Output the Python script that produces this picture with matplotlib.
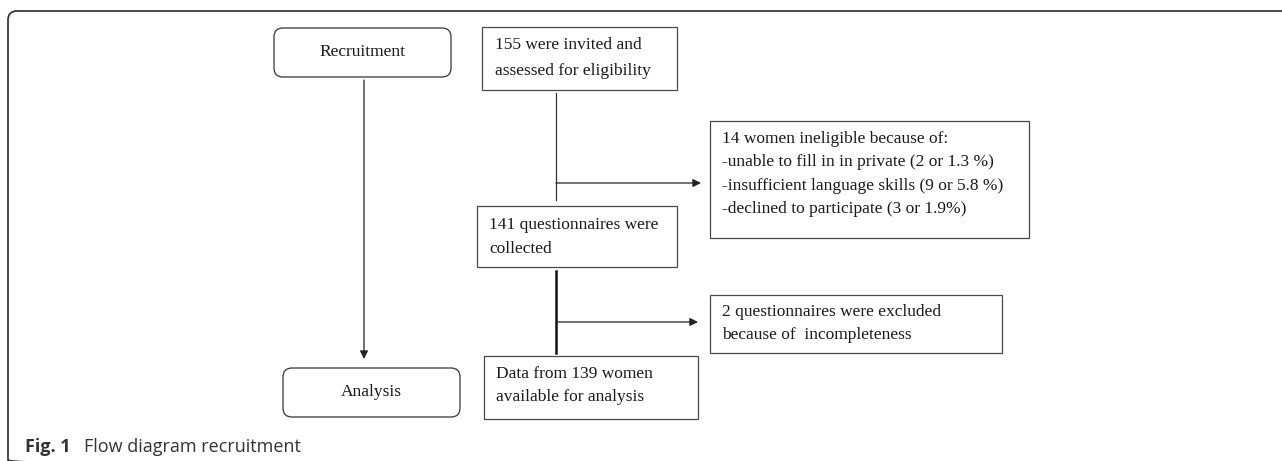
import matplotlib
matplotlib.use("Agg")
from matplotlib import pyplot as plt
from matplotlib.patches import FancyBboxPatch, Rectangle

# box texts
stage_labels = ["Recruitment", "Analysis"]
invited_text = ["155 were invited and", "assessed for eligibility"]
excluded_1_text = ["14 women ineligible because of:",
                   "-unable to fill in in private (2 or 1.3 %)",
                   "-insufficient language skills (9 or 5.8 %)",
                   "-declined to participate (3 or 1.9%)"]
collected_text = ["141 questionnaires were", "collected"]
excluded_2_text = ["2 questionnaires were excluded", "because of  incompleteness"]
final_text = ["Data from 139 women", "available for analysis"]
caption_bold = "Fig. 1"
caption_rest = "Flow diagram recruitment"

serif = "Liberation Serif"
txt_col = "#1a1a1a"
edge_col = "#4a4a4a"
fs = 12.5

W, H = 1282, 461
fig = plt.figure(figsize=(W / 100, H / 100), dpi=100)
ax = fig.add_axes([0, 0, 1, 1])
ax.set_xlim(0, W)
ax.set_ylim(H, 0)
ax.axis("off")

# outer frame
ax.add_patch(FancyBboxPatch((8, 11), 1300, 458,
                            boxstyle="round,pad=0,rounding_size=9",
                            fc="none", ec="#3a3a3a", lw=1.3, clip_on=False))


def rbox(x0, y0, x1, y1, label):
    ax.add_patch(FancyBboxPatch((x0, y0), x1 - x0, y1 - y0,
                                boxstyle="round,pad=0,rounding_size=9",
                                fc="white", ec="#333333", lw=0.9))
    ax.text((x0 + x1) / 2, (y0 + y1) / 2 - 1, label, family=serif, size=fs,
            color=txt_col, ha="center", va="center")


def sbox(x0, y0, x1, y1, lines, ys, tx):
    ax.add_patch(Rectangle((x0, y0), x1 - x0, y1 - y0,
                           fc="white", ec=edge_col, lw=0.9))
    for s, y in zip(lines, ys):
        ax.text(tx, y, s, family=serif, size=fs, color=txt_col,
                ha="left", va="center")


def arrow(x0, y0, x1, y1):
    ax.annotate("", xy=(x1, y1), xytext=(x0, y0),
                arrowprops=dict(arrowstyle="-|>", mutation_scale=12,
                                lw=0.9, color="#222222",
                                shrinkA=0, shrinkB=0))


# left column
rbox(274, 28, 451, 77, stage_labels[0])
rbox(283, 368, 460, 417, stage_labels[1])
arrow(364, 80, 364, 359)

# right column boxes
sbox(482, 27, 677, 90, invited_text, [45, 71], 495)
sbox(710, 121, 1029, 238, excluded_1_text, [139, 162, 186, 209], 722)
sbox(477, 206, 677, 267, collected_text, [225, 249], 489)
sbox(710, 295, 1002, 353, excluded_2_text, [312, 335], 722)
sbox(484, 356, 698, 419, final_text, [374, 397], 496)

# connectors
ax.plot([556, 556], [93, 200], color="#333333", lw=0.9)
arrow(556, 183, 701, 183)
ax.plot([556, 556], [271, 353], color="#111111", lw=1.8)
arrow(556, 322, 698, 322)

# caption
ax.text(25, 447, caption_bold, family="Open Sans", weight="bold", size=13,
        color="#333333", ha="left", va="center")
ax.text(84, 447, caption_rest, family="Open Sans", size=13,
        color="#333333", ha="left", va="center")

fig.savefig("out.png", dpi=100)
